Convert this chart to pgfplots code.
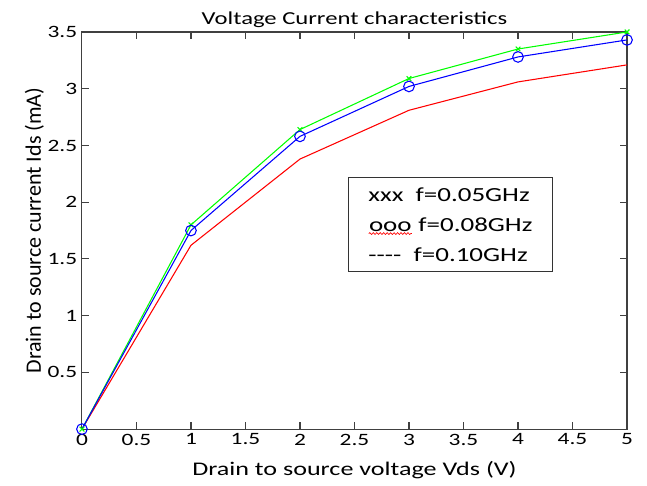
\documentclass[border=0pt]{standalone}
\usepackage{pgfplots}
\pgfplotsset{compat=1.18}
\usepackage{fontspec}
\setmainfont{Carlito}[FakeStretch=1.35]
\newfontfamily\narrowfont{Carlito}
\usetikzlibrary{decorations.pathmorphing}

\pgfplotstableread{
x y
0 0
1 1.80
2 2.64
3 3.09
4 3.35
5 3.50
}\greenset
\pgfplotstableread{
x y
0 0
1 1.75
2 2.58
3 3.02
4 3.28
5 3.43
}\blueset
\pgfplotstableread{
x y
0 0
1 1.62
2 2.38
3 2.81
4 3.06
5 3.21
}\redset

\newcommand{\wavy}[1]{\tikz[baseline=(w.base)]{\node[inner sep=0pt, minimum width=0pt, minimum height=0pt, draw=none](w){#1};
  \draw[red, line width=0.5pt, decorate, decoration={snake, amplitude=0.7pt, segment length=2.6pt}]
    ([yshift=-1.5pt]w.south west) -- ([yshift=-1.5pt]w.south east);}}

\begin{document}
\begin{tikzpicture}
\begin{axis}[
    scale only axis,
    width=409pt, height=298pt,
    xmin=0, xmax=5, ymin=0, ymax=3.5,
    xtick={0,0.5,...,5},
    ytick={0.5,1,...,3.5},
    xticklabels={0,0.5,1,1.5,2,2.5,3,3.5,4,4.5,5},
    yticklabels={0.5,1,1.5,2,2.5,3,3.5},
    tick align=inside,
    major tick length=5pt,
    axis line style={draw=black!75, line width=0.8pt},
    every tick/.style={black!75, line width=0.8pt},
    ticklabel style={font=\fontsize{13}{15}\selectfont},
    /pgf/number format/assume math mode=true,
    title={Voltage Current characteristics},
    title style={font=\fontsize{13.7}{15}\selectfont, yshift=-6pt},
    xlabel={Drain to source voltage Vds (V)},
    ylabel={Drain to source current Ids (mA)},
    xlabel style={font=\fontsize{14.5}{16}\selectfont, yshift=-5pt},
    ylabel style={font=\narrowfont\fontsize{16.5}{18}\selectfont, yshift=-4pt},
]
\addplot[red, line width=0.8pt] table {\redset};
\addplot[green, line width=0.8pt, mark=x, mark size=2.5pt] table {\greenset};
\addplot[blue, line width=0.8pt, mark=o, mark size=4pt] table {\blueset};
\node[draw=black!80, line width=0.8pt, anchor=north west, align=left,
      minimum width=153pt, minimum height=70pt, inner xsep=10pt, inner ysep=4pt,
      font=\fontsize{15}{22.5}\selectfont]
  at (axis cs:2.44,2.22)
  {xxx\ \ f=0.05GHz\\ \wavy{ooo} f=0.08GHz\\ {-}{-}{-}{-}\ \ f=0.10GHz};
\end{axis}
\useasboundingbox ([xshift=-61.5pt,yshift=-42pt]current axis.south west) rectangle ([xshift=15pt,yshift=24pt]current axis.north east);
\end{tikzpicture}
\end{document}
